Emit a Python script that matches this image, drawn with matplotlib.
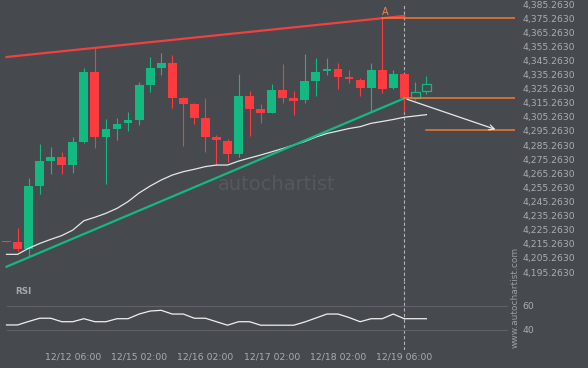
import matplotlib.pyplot as plt
import numpy as np

# candle data, one entry per bar
opens  = [4217.2, 4216.3, 4211.6, 4256.5, 4274.2, 4276.8, 4271.3, 4287.6, 4337.0, 4291.2,
          4296.6, 4301.1, 4303.2, 4328.0, 4340.1, 4343.4, 4318.6, 4314.4, 4304.4, 4291.0,
          4288.1, 4279.1, 4320.0, 4311.0, 4308.2, 4324.3, 4318.6, 4317.2, 4330.9, 4337.8,
          4339.2, 4333.5, 4331.4, 4325.9, 4338.5, 4325.7, 4335.6, 4318.8, 4323.4]
highs  = [4217.6, 4226.2, 4261.7, 4286.0, 4283.9, 4280.1, 4291.0, 4339.7, 4353.9, 4303.5,
          4304.7, 4308.5, 4330.0, 4347.5, 4350.5, 4348.9, 4319.5, 4314.9, 4318.4, 4292.2,
          4289.3, 4335.6, 4323.6, 4314.6, 4328.5, 4342.7, 4323.6, 4349.8, 4347.0, 4347.0,
          4343.2, 4338.3, 4332.8, 4343.4, 4375.1, 4338.5, 4335.6, 4330.2, 4334.0]
lows   = [4216.8, 4210.4, 4205.7, 4250.3, 4264.5, 4264.5, 4265.7, 4286.9, 4283.0, 4257.4,
          4288.6, 4295.0, 4299.7, 4323.1, 4335.1, 4311.8, 4284.8, 4300.0, 4280.5, 4271.1,
          4273.5, 4276.6, 4291.5, 4300.7, 4308.0, 4315.3, 4306.4, 4314.9, 4320.3, 4335.1,
          4324.8, 4329.1, 4320.3, 4309.2, 4321.9, 4324.8, 4308.9, 4317.2, 4321.2]
closes = [4216.8, 4211.6, 4256.5, 4273.9, 4276.8, 4271.3, 4287.4, 4337.3, 4291.2, 4296.6,
          4300.2, 4303.0, 4327.8, 4339.9, 4343.4, 4318.8, 4314.6, 4304.7, 4291.2, 4288.6,
          4279.1, 4320.0, 4311.0, 4308.2, 4324.3, 4318.8, 4316.7, 4330.7, 4337.0, 4339.2,
          4333.5, 4332.1, 4325.9, 4338.5, 4325.2, 4335.6, 4318.6, 4322.7, 4328.4]
ma = [4207.8, 4207.8, 4212.1, 4215.5, 4218.4, 4221.1, 4225.0, 4231.6, 4234.1, 4236.9,
      4240.4, 4245.2, 4251.3, 4256.2, 4260.5, 4264.0, 4266.4, 4268.1, 4270.0, 4271.1,
      4271.1, 4273.9, 4276.1, 4278.2, 4280.5, 4282.8, 4285.3, 4287.8, 4291.0, 4293.5,
      4295.2, 4297.0, 4298.3, 4300.7, 4302.0, 4303.4, 4305.0, 4305.9, 4306.8]
rsi = [44.2, 44.2, 47.1, 49.8, 49.8, 46.9, 46.9, 49.4, 46.9, 46.9,
       49.4, 49.4, 53.3, 55.8, 56.4, 53.3, 53.3, 49.8, 49.8, 46.9,
       44.0, 46.9, 46.9, 44.0, 44.0, 44.0, 44.0, 46.7, 50.0, 53.3,
       53.3, 50.4, 46.9, 49.4, 49.4, 53.3, 49.4, 49.4, 49.4]
n_live = 37  # last two bars are drawn hollow

# pattern lines
resist_x = [0, 36]
resist_y = [4347.7, 4376.8]
support_x = [0, 36]
support_y = [4199.0, 4318.4]
levels = [4375.2, 4318.4, 4295.7]
level_start = [34, 36, 38]
arrow_from = (36, 4318.4)
arrow_to = (44.5, 4295.7)

price_ticks = np.arange(4195.263, 4390, 10)
tick_pos = [6, 12, 18, 24, 30, 36]
tick_labels = ['12/12 06:00', '12/15 02:00', '12/16 02:00', '12/17 02:00', '12/18 02:00', '12/19 06:00']

bg = '#46494e'
green = '#13b981'
red = '#fc3b3f'
orange = '#f7792e'
txt = '#a9acb1'

fig = plt.figure(figsize=(5.88, 3.68), dpi=100, facecolor=bg)
ax = fig.add_axes([0, 87 / 368, 515 / 588, 281 / 368], facecolor=bg)
ax2 = fig.add_axes([0, 18 / 368, 515 / 588, 69 / 368], facecolor=bg, sharex=ax)

x = np.arange(len(opens))
o = np.array(opens); c = np.array(closes)
up = c >= o
cols = np.where(up, green, red)

# watermark
ax.text(0.538, 0.342, 'autochartist', transform=ax.transAxes, ha='center', va='center',
        fontsize=14, color='#55585d', zorder=0)

live = x < n_live
ax.vlines(x[live], np.array(lows)[live], np.array(highs)[live], colors=cols[live], lw=0.8, zorder=2)
ax.bar(x[live], np.maximum(np.abs(c - o), 0.3)[live], bottom=np.minimum(o, c)[live], width=0.8,
       color=cols[live], zorder=3)
ax.vlines(x[~live], np.array(lows)[~live], np.array(highs)[~live], colors=green, lw=0.8, zorder=2)
ax.bar(x[~live], np.abs(c - o)[~live], bottom=np.minimum(o, c)[~live], width=0.8,
       facecolor=bg, edgecolor=green, lw=0.9, zorder=3)

ax.plot(x, ma, color='#e6e6e6', lw=0.9, zorder=4)
ax.plot(resist_x, resist_y, color='#f04040', lw=1.6, zorder=5)
ax.plot(support_x, support_y, color=green, lw=1.6, zorder=5)

x1 = (515 - 6.5) / 11.05
for lv, st in zip(levels, level_start):
    ax.plot([st, x1], [lv, lv], color=orange, lw=1.1, zorder=5)
ax.annotate('', xy=arrow_to, xytext=arrow_from,
            arrowprops=dict(arrowstyle='->', color='#e8e8e8', lw=0.9, mutation_scale=9), zorder=6)
ax.text(34.3, 4379.5, 'A', color='#e98a57', fontsize=7, ha='center', va='center')

ax.axvline(36, ymax=1 - 4 / 281, color='#b0b3b7', lw=0.8, dashes=(3, 2), zorder=1)
ax2.axvline(36, color='#b0b3b7', lw=0.8, dashes=(3, 2), zorder=1)

ax.set_xlim(-6.5 / 11.05, x1)
ax.set_ylim(4188.9, 4388.1)
ax.yaxis.tick_right()
ax.set_yticks(price_ticks)
ax.set_yticklabels(['{:,.4f}'.format(p) for p in price_ticks])
ax.tick_params(axis='y', length=0, pad=5.5, labelsize=6.7, labelcolor=txt)
ax.tick_params(axis='x', length=0, labelbottom=False)
for s in ax.spines.values():
    s.set_visible(False)

# RSI panel
ax2.set_ylim(23.33, 80.83)
for lv in [40, 60]:
    ax2.axhline(lv, xmin=7 / 515, xmax=507 / 515, color='#5e6267', lw=0.8, zorder=1)
ax2.plot(x, rsi, color='#f0f0f0', lw=0.9, zorder=3)
ax2.yaxis.tick_right()
ax2.set_yticks([40, 60])
ax2.set_yticklabels(['40', '60'])
ax2.set_xticks(tick_pos)
ax2.set_xticklabels(tick_labels)
ax2.tick_params(length=0, labelsize=6.7, labelcolor=txt)
ax2.tick_params(axis='y', pad=5.5)
ax2.tick_params(axis='x', pad=2)
for s in ax2.spines.values():
    s.set_visible(False)
ax2.text(15 / 515, 1 - 10 / 69, 'RSI', transform=ax2.transAxes, fontsize=6.3,
         fontweight='bold', color='#a5a8ad', va='center')

fig.text(515 / 588, 1 - 297.5 / 368, 'www.autochartist.com', rotation=90, ha='center',
         va='center', fontsize=6.5, color='#9a9da2')

fig.savefig('out.png', dpi=100, facecolor=bg)
